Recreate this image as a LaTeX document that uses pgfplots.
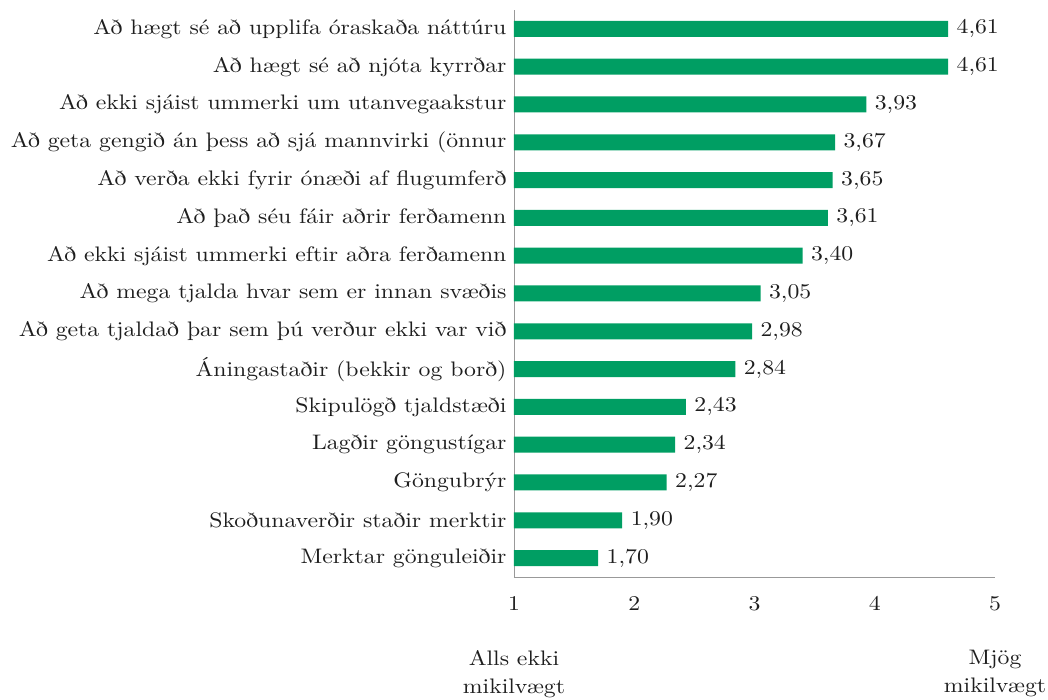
\documentclass[border=0pt]{standalone}
\usepackage{fontspec}
\setmainfont{lmroman10-regular.otf}[FakeStretch=1.13]
\usepackage{pgfplots}
\pgfplotsset{compat=1.18}
\definecolor{barg}{RGB}{0,158,99}
\definecolor{txt}{RGB}{30,30,30}
\newcommand{\fs}{\fontsize{21}{28}\selectfont}
\begin{document}
\begin{tikzpicture}
\begin{axis}[
  scale only axis,
  width=481pt, height=567pt,
  xmin=1, xmax=5, ymin=0.5, ymax=15.5,
  clip=false,
  xbar, bar width=16pt,
  axis x line*=bottom, axis y line*=left,
  axis line style={draw=black!40, line width=0.9pt},
  major tick length=0pt,
  xtick={1,2,3,4,5},
  ytick={1,...,15},
  yticklabels={Merktar gönguleiðir, Skoðunaverðir staðir merktir, Göngubrýr, Lagðir göngustígar, Skipulögð tjaldstæði, Áningastaðir (bekkir og borð), Að geta tjaldað þar sem þú verður ekki var við, Að mega tjalda hvar sem er innan svæðis, Að ekki sjáist ummerki eftir aðra ferðamenn, Að það séu fáir aðrir ferðamenn, Að verða ekki fyrir ónæði af flugumferð, Að geta gengið án þess að sjá mannvirki (önnur, Að ekki sjáist ummerki um utanvegaakstur, Að hægt sé að njóta kyrrðar, Að hægt sé að upplifa óraskaða náttúru},
  /pgf/number format/assume math mode=true,
  ticklabel style={font=\fs, text=txt},
  xticklabel style={yshift=-16pt},
  yticklabel style={xshift=-4pt},
  nodes near coords={\pgfmathprintnumber[fixed,fixed zerofill,precision=2,use comma]{\pgfplotspointmeta}},
  point meta=x,
  every node near coord/.append style={font=\fs, text=txt, anchor=west, xshift=5pt},
]
\addplot[fill=barg, draw=none] table {
x y
4.61 15
4.61 14
3.93 13
3.67 12
3.65 11
3.61 10
3.40 9
3.05 8
2.98 7
2.84 6
2.43 5
2.34 4
2.27 3
1.90 2
1.70 1
};
\coordinate (o) at (rel axis cs:0,0);
\node[font=\fs, text=txt, align=center, anchor=north] at (axis cs:1,0.5) [yshift=-70pt] {Alls ekki\\mikilvægt};
\node[font=\fs, text=txt, align=center, anchor=north] at (axis cs:5,0.5) [yshift=-70pt] {Mjög\\mikilvægt};
\end{axis}
\pgfresetboundingbox
\path[use as bounding box] (o) ++(-514pt,-123pt) rectangle ++(1048pt,700pt);
\end{tikzpicture}
\end{document}
